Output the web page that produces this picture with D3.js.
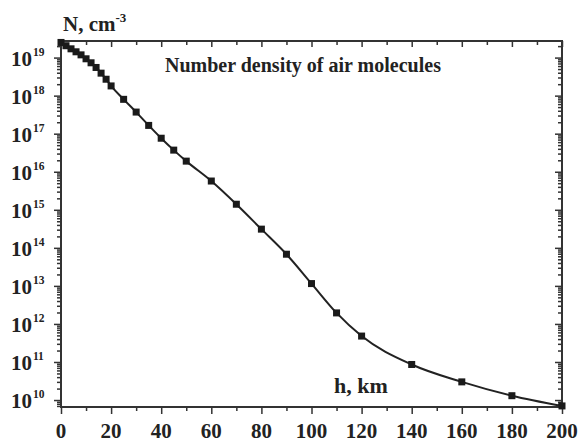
<!DOCTYPE html>
<html>
<head>
<meta charset="utf-8">
<script src="https://cdn.jsdelivr.net/npm/d3@7"></script>
<style>
  body { margin: 0; background: #fff; }
  text { font-family: "Liberation Serif", "Times New Roman", serif; font-weight: bold; fill: #222; }
</style>
</head>
<body>
<svg id="chart" width="583" height="442"></svg>
<script>
// altitude, km
const heights = [0, 2, 4, 6, 8, 10, 12, 14, 16, 18, 20, 25, 30, 35, 40, 45, 50,
    60, 70, 80, 90, 100, 110, 120, 140, 160, 180, 200];
// number density, cm^-3
const density = [2.5e19, 2.05e19, 1.7e19, 1.42e19, 1.18e19, 9.3e18, 7.3e18, 5.5e18, 3.9e18, 2.7e18, 1.8e18,
    8.0e17, 3.7e17, 1.65e17, 7.6e16, 3.7e16, 1.9e16,
    5.7e15, 1.4e15, 3.1e14, 6.8e13, 1.15e13, 1.95e12, 4.8e11, 8.6e10, 3.0e10, 1.3e10, 7.0e9];

const xMajor = [0, 20, 40, 60, 80, 100, 120, 140, 160, 180, 200];
const xMinor = [10, 30, 50, 70, 90, 110, 130, 150, 170, 190];
const yExponents = [10, 11, 12, 13, 14, 15, 16, 17, 18, 19];

const svg = d3.select("#chart");
const mLeft = 61, mRight = 562, mTop = 41, mBottom = 407;

const x = d3.scaleLinear().domain([0, 200]).range([mLeft, mRight]);
const y = d3.scaleLog().domain([Math.pow(10, 9.817), Math.pow(10, 19.436)]).range([mBottom, mTop]);

const yMajor = yExponents.map(e => Math.pow(10, e));
let yMinor = [];
for (let e = 9; e <= 19; e++) {
    for (let k = 2; k <= 9; k++) {
        let v = k * Math.pow(10, e);
        if (v > y.domain()[0] && v < y.domain()[1]) yMinor.push(v);
    }
}

const ink = "#333";

function styleAxis(g) {
    g.select(".domain").remove();
    g.selectAll("line").attr("stroke", ink).attr("stroke-width", 1.5);
}

// bottom axis (ticks outward)
svg.append("g").attr("transform", `translate(0,${mBottom})`)
    .call(d3.axisBottom(x).tickValues(xMajor).tickSize(7).tickFormat(""))
    .call(styleAxis);
svg.append("g").attr("transform", `translate(0,${mBottom})`)
    .call(d3.axisBottom(x).tickValues(xMinor).tickSize(4).tickFormat(""))
    .call(styleAxis);
// top axis (ticks inward)
svg.append("g").attr("transform", `translate(0,${mTop})`)
    .call(d3.axisBottom(x).tickValues(xMajor).tickSize(6).tickFormat(""))
    .call(styleAxis);
svg.append("g").attr("transform", `translate(0,${mTop})`)
    .call(d3.axisBottom(x).tickValues(xMinor).tickSize(4).tickFormat(""))
    .call(styleAxis);

// left axis (ticks outward)
svg.append("g").attr("transform", `translate(${mLeft},0)`)
    .call(d3.axisLeft(y).tickValues(yMajor).tickSize(7).tickFormat(""))
    .call(styleAxis);
svg.append("g").attr("transform", `translate(${mLeft},0)`)
    .call(d3.axisLeft(y).tickValues(yMinor).tickSize(4).tickFormat(""))
    .call(styleAxis);
// right axis (ticks inward)
svg.append("g").attr("transform", `translate(${mRight},0)`)
    .call(d3.axisLeft(y).tickValues(yMajor).tickSize(7).tickFormat(""))
    .call(styleAxis);
svg.append("g").attr("transform", `translate(${mRight},0)`)
    .call(d3.axisLeft(y).tickValues(yMinor).tickSize(4).tickFormat(""))
    .call(styleAxis);

// frame
svg.append("rect")
    .attr("x", mLeft).attr("y", mTop)
    .attr("width", mRight - mLeft).attr("height", mBottom - mTop)
    .attr("fill", "none").attr("stroke", ink).attr("stroke-width", 2);

// x tick labels
svg.selectAll("text.xlab").data(xMajor).enter().append("text")
    .attr("class", "xlab")
    .attr("x", d => x(d)).attr("y", 438)
    .attr("text-anchor", "middle")
    .attr("font-size", 21)
    .text(d => d);

// y tick labels: 10 with exponent
let ylab = svg.selectAll("text.ylab").data(yExponents).enter().append("text")
    .attr("class", "ylab")
    .attr("x", 11).attr("y", d => y(Math.pow(10, d)) + 8)
    .attr("font-size", 21);
ylab.append("tspan").text("10");
ylab.append("tspan").attr("dy", -10).attr("dx", 1).attr("font-size", 11.5).text(d => d);

// curve
const line = d3.line()
    .x((d, i) => x(heights[i]))
    .y(d => y(d))
    .curve(d3.curveMonotoneX);

svg.append("path")
    .datum(density)
    .attr("d", line)
    .attr("fill", "none")
    .attr("stroke", "#222")
    .attr("stroke-width", 2);

svg.selectAll("rect.pt").data(density).enter().append("rect")
    .attr("class", "pt")
    .attr("x", (d, i) => x(heights[i]) - 3.5)
    .attr("y", d => y(d) - 3.5)
    .attr("width", 7).attr("height", 7)
    .attr("fill", "#1a1a1a");

// labels
svg.append("text").attr("x", 165).attr("y", 72).attr("font-size", 20)
    .text("Number density of air molecules");

let ytitle = svg.append("text").attr("x", 63).attr("y", 31).attr("font-size", 21);
ytitle.append("tspan").text("N, cm");
ytitle.append("tspan").attr("dy", -9).attr("font-size", 13).text("-3");

svg.append("text").attr("x", 334).attr("y", 393).attr("font-size", 22)
    .text("h, km");
</script>
</body>
</html>
